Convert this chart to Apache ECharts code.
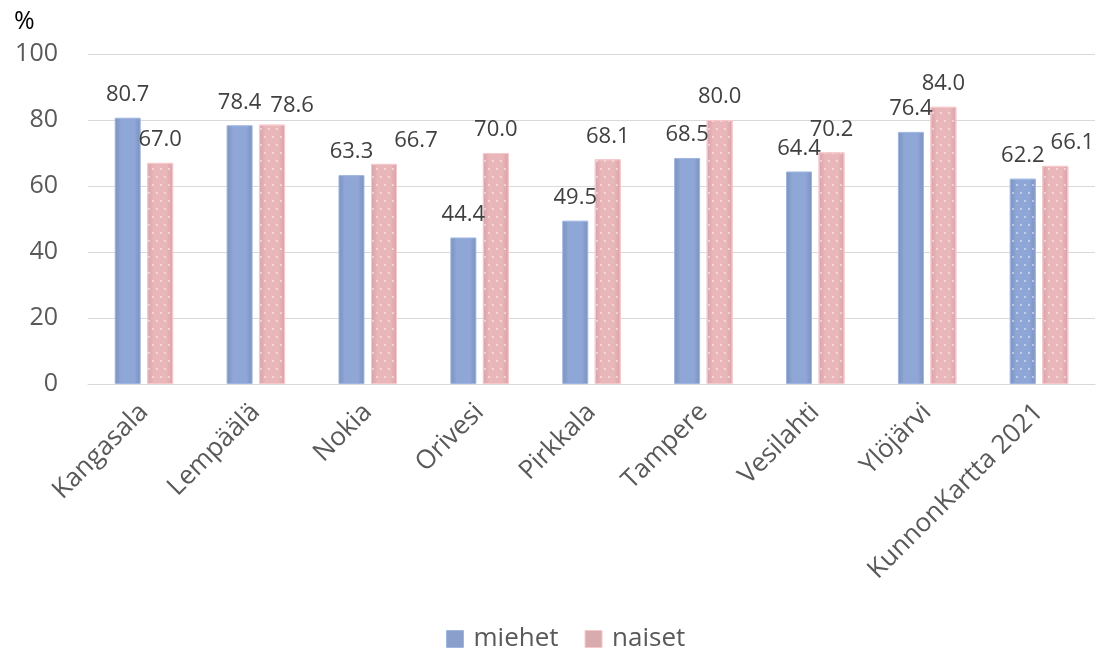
<!DOCTYPE html>
<html>
<head>
<meta charset="utf-8">
<script src="https://cdn.jsdelivr.net/npm/echarts@6/dist/echarts.min.js"></script>
<style>
  html, body { margin: 0; padding: 0; background: #ffffff; }
  #chart { width: 1097px; height: 653px; }
</style>
</head>
<body>
<div id="chart"></div>
<script>
// Municipalities and the closing reference group
const categories = ['Kangasala', 'Lempäälä', 'Nokia', 'Orivesi', 'Pirkkala', 'Tampere', 'Vesilahti', 'Ylöjärvi', 'KunnonKartta 2021'];
// Share (%) per group
const miehet = [80.7, 78.4, 63.3, 44.4, 49.5, 68.5, 64.4, 76.4, 62.2];
const naiset = [67.0, 78.6, 66.7, 70.0, 68.1, 80.0, 70.2, 84.0, 66.1];
// Value axis
const yMin = 0, yMax = 100, yStep = 20;

const FONT = '"Open Sans", "Noto Sans", sans-serif';

// Small staggered white dots used as a fill pattern
function dotDecal() {
  return {
    symbol: 'circle',
    symbolSize: 1,
    color: 'rgba(255,255,255,0.6)',
    dashArrayX: [[2, 6], [0, 4, 2, 2]],
    dashArrayY: [2, 6],
    rotation: 0,
    symbolKeepAspect: true
  };
}

function shade(edge, mid) {
  return {
    type: 'linear', x: 0, y: 0, x2: 1, y2: 0,
    colorStops: [
      { offset: 0, color: edge },
      { offset: 0.25, color: mid },
      { offset: 0.75, color: mid },
      { offset: 1, color: edge }
    ]
  };
}

const blueStyle = { color: shade('#7b90bd', '#8fa7d7'), borderColor: '#9fb6e3', borderWidth: 1 };
const pinkStyle = { color: shade('#d7a2a6', '#e9b6ba'), borderColor: '#f6c7cb', borderWidth: 1 };

// Value labels nudged aside where neighbours would collide
const labelShift = {
  'naiset|Lempäälä': [20, 4],
  'naiset|Nokia': [32, 0],
  'naiset|KunnonKartta 2021': [17, 0]
};

function buildData(name, values, style, dotted) {
  return values.map((v, i) => {
    const item = { value: v, itemStyle: Object.assign({}, style) };
    if (dotted(categories[i])) item.itemStyle.decal = dotDecal();
    const shift = labelShift[name + '|' + categories[i]];
    if (shift) item.label = { offset: shift };
    return item;
  });
}

const labelCfg = {
  show: true,
  position: 'top',
  distance: 12,
  color: '#404040',
  fontFamily: FONT,
  fontSize: 22,
  formatter: p => p.value.toFixed(1)
};

const chart = echarts.init(document.getElementById('chart'), null, { renderer: 'canvas' });
chart.setOption({
  backgroundColor: '#ffffff',
  animation: false,
  grid: { left: 88, right: 2, top: 54, bottom: 269, containLabel: false },
  graphic: [{
    type: 'text', left: 14, top: 9,
    style: { text: '%', fontFamily: FONT, fontSize: 25, fill: '#000000' }
  }],
  legend: {
    top: 626,
    left: 446,
    padding: 0,
    itemWidth: 17,
    itemHeight: 17,
    itemGap: 26,
    icon: 'rect',
    textStyle: { fontFamily: FONT, fontSize: 26, color: '#595959', padding: [0, 0, 0, 5] },
    data: [
      { name: 'miehet', itemStyle: { color: '#8a9fcc', borderColor: '#9fb6e3', borderWidth: 1 } },
      { name: 'naiset', itemStyle: { color: '#d9aaae', borderColor: '#f6c7cb', borderWidth: 1 } }
    ]
  },
  xAxis: {
    type: 'category',
    data: categories,
    axisTick: { show: false },
    axisLine: { show: true, lineStyle: { color: '#d9d9d9', width: 1 } },
    axisLabel: {
      rotate: 45,
      interval: 0,
      margin: 24,
      color: '#595959',
      fontFamily: FONT,
      fontSize: 26
    }
  },
  yAxis: {
    type: 'value',
    min: yMin,
    max: yMax,
    interval: yStep,
    axisLine: { show: false },
    axisTick: { show: false },
    splitLine: { lineStyle: { color: '#d9d9d9', width: 1 } },
    axisLabel: {
      margin: 30,
      color: '#595959',
      fontFamily: FONT,
      fontSize: 25
    }
  },
  series: [
    {
      name: 'miehet',
      type: 'bar',
      barWidth: 26,
      barGap: '25%',
      data: buildData('miehet', miehet, blueStyle, c => c === 'KunnonKartta 2021'),
      label: labelCfg
    },
    {
      name: 'naiset',
      type: 'bar',
      barWidth: 26,
      data: buildData('naiset', naiset, pinkStyle, () => true),
      label: labelCfg
    }
  ]
});
</script>
</body>
</html>
